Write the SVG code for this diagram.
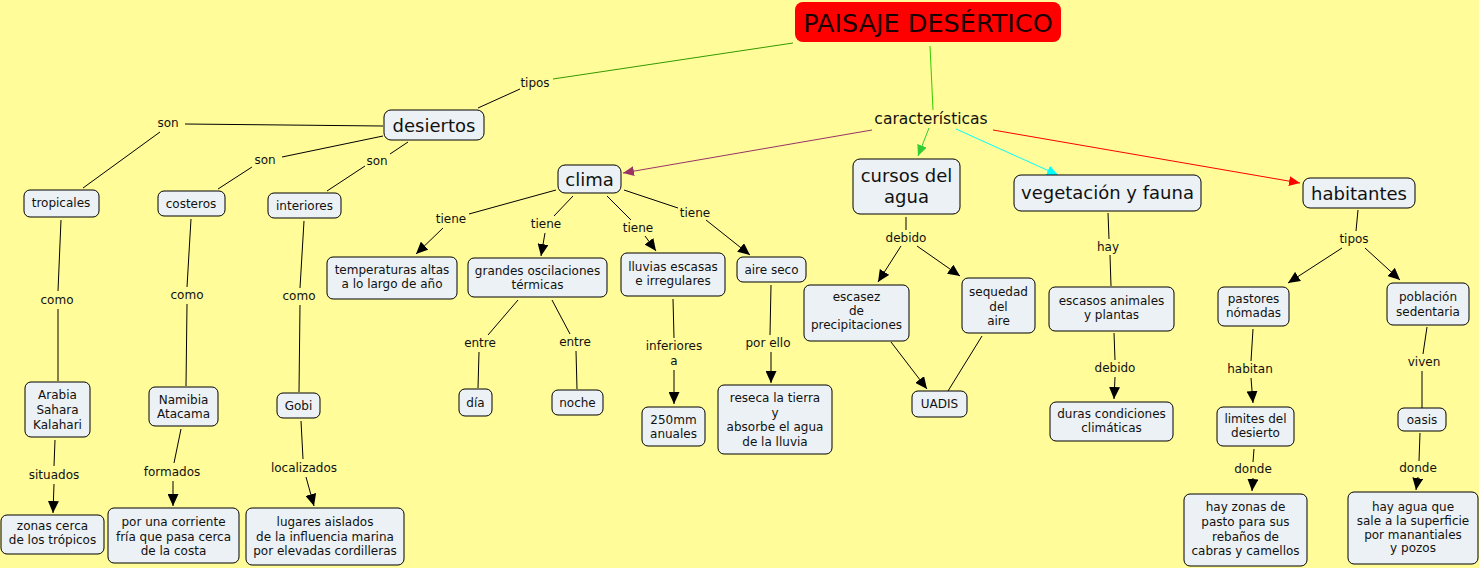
<svg xmlns="http://www.w3.org/2000/svg" width="1479" height="568" viewBox="0 0 1479 568">
<style>
text{font-family:"DejaVu Sans","Verdana",sans-serif;fill:#111;text-anchor:middle;dominant-baseline:central}
.n rect{fill:#ECF1F5;stroke:#000;stroke-width:1}
.s{font-size:12px}
.b{font-size:18px}
.lbl{font-size:12px}
.c line,.c path{stroke:#000;stroke-width:1;fill:none}
</style>
<defs>
<marker id="ab" markerUnits="userSpaceOnUse" markerWidth="12" markerHeight="11" refX="12" refY="5.5" orient="auto"><path d="M0,0 L12,5.5 L0,11 z" fill="#000"/></marker>
<marker id="ap" markerUnits="userSpaceOnUse" markerWidth="11" markerHeight="10" refX="11" refY="5" orient="auto"><path d="M0,0 L11,5 L0,10 z" fill="#993366"/></marker>
<marker id="ag" markerUnits="userSpaceOnUse" markerWidth="11" markerHeight="10" refX="11" refY="5" orient="auto"><path d="M0,0 L11,5 L0,10 z" fill="#33CC33"/></marker>
<marker id="ac" markerUnits="userSpaceOnUse" markerWidth="11" markerHeight="10" refX="11" refY="5" orient="auto"><path d="M0,0 L11,5 L0,10 z" fill="#00FFFF"/></marker>
<marker id="ar" markerUnits="userSpaceOnUse" markerWidth="11" markerHeight="10" refX="11" refY="5" orient="auto"><path d="M0,0 L11,5 L0,10 z" fill="#FF0000"/></marker>
</defs>
<rect x="0" y="0" width="1479" height="568" fill="#FFFC99"/>

<g id="connectors" class="c">
<line x1="793" y1="43" x2="553" y2="79" style="stroke:#339900"/>
<line x1="520" y1="89" x2="478" y2="108"/>
<line x1="930" y1="46" x2="933" y2="110" style="stroke:#33CC00"/>
<line x1="872" y1="130" x2="623" y2="173" style="stroke:#993366" marker-end="url(#ap)"/>
<line x1="929" y1="128" x2="918" y2="156" style="stroke:#33CC33" marker-end="url(#ag)"/>
<line x1="956" y1="129" x2="1058" y2="175" style="stroke:#00FFFF" marker-end="url(#ac)"/>
<line x1="993" y1="130" x2="1300" y2="183" style="stroke:#FF0000" marker-end="url(#ar)"/>

<line x1="383" y1="126" x2="185" y2="124"/>
<line x1="160" y1="132" x2="83" y2="188"/>
<line x1="383" y1="136" x2="282" y2="157"/>
<line x1="252" y1="167" x2="218" y2="189"/>
<line x1="408" y1="142" x2="390" y2="154"/>
<line x1="365" y1="166" x2="327" y2="191"/>
<line x1="61" y1="220" x2="58" y2="291"/>
<line x1="58" y1="309" x2="58" y2="381"/>
<line x1="191" y1="219" x2="187" y2="287"/>
<line x1="187" y1="304" x2="186" y2="386"/>
<line x1="304" y1="221" x2="300" y2="288"/>
<line x1="300" y1="305" x2="299" y2="392"/>
<line x1="55" y1="440" x2="54" y2="466"/>
<line x1="54" y1="484" x2="53" y2="513" marker-end="url(#ab)"/>
<line x1="181" y1="429" x2="174" y2="463"/>
<line x1="173" y1="481" x2="173" y2="506" marker-end="url(#ab)"/>
<line x1="301" y1="421" x2="303" y2="459"/>
<line x1="306" y1="477" x2="314" y2="506" marker-end="url(#ab)"/>

<line x1="556" y1="190" x2="469" y2="214"/>
<line x1="443" y1="228" x2="416" y2="254" marker-end="url(#ab)"/>
<line x1="573" y1="196" x2="554" y2="216"/>
<line x1="545" y1="233" x2="541" y2="256" marker-end="url(#ab)"/>
<line x1="607" y1="196" x2="631" y2="220"/>
<line x1="645" y1="236" x2="656" y2="251" marker-end="url(#ab)"/>
<line x1="624" y1="190" x2="678" y2="208"/>
<line x1="706" y1="220" x2="750" y2="255" marker-end="url(#ab)"/>
<line x1="518" y1="300" x2="488" y2="335"/>
<line x1="479" y1="352" x2="478" y2="388"/>
<line x1="552" y1="300" x2="570" y2="334"/>
<line x1="576" y1="351" x2="577" y2="389"/>
<line x1="673" y1="299" x2="674" y2="338"/>
<line x1="674" y1="370" x2="674" y2="404" marker-end="url(#ab)"/>
<line x1="771" y1="285" x2="770" y2="335"/>
<line x1="771" y1="352" x2="771" y2="383" marker-end="url(#ab)"/>

<line x1="906" y1="217" x2="906" y2="230"/>
<line x1="901" y1="246" x2="878" y2="282" marker-end="url(#ab)"/>
<line x1="917" y1="246" x2="960" y2="276" marker-end="url(#ab)"/>
<line x1="891" y1="342" x2="927" y2="389" marker-end="url(#ab)"/>
<line x1="982" y1="336" x2="948" y2="391"/>
<line x1="1108" y1="213" x2="1109" y2="239"/>
<line x1="1110" y1="255" x2="1111" y2="286"/>
<line x1="1114" y1="333" x2="1115" y2="360"/>
<line x1="1115" y1="377" x2="1114" y2="399" marker-end="url(#ab)"/>

<line x1="1358" y1="210" x2="1356" y2="231"/>
<line x1="1342" y1="248" x2="1288" y2="283" marker-end="url(#ab)"/>
<line x1="1365" y1="248" x2="1400" y2="280" marker-end="url(#ab)"/>
<line x1="1253" y1="329" x2="1251" y2="361"/>
<line x1="1251" y1="378" x2="1253" y2="403" marker-end="url(#ab)"/>
<line x1="1427" y1="327" x2="1423" y2="354"/>
<line x1="1422" y1="371" x2="1422" y2="409"/>
<line x1="1254" y1="449" x2="1253" y2="462"/>
<line x1="1253" y1="478" x2="1252" y2="491" marker-end="url(#ab)"/>
<line x1="1420" y1="433" x2="1419" y2="461"/>
<line x1="1418" y1="477" x2="1416" y2="490" marker-end="url(#ab)"/>
</g>

<g id="labels" class="lbl">
<text x="535" y="83" class="lbl">tipos</text>
<text x="931" y="119" style="font-size:15.5px">características</text>
<text x="168" y="123" class="lbl">son</text>
<text x="265" y="160" class="lbl">son</text>
<text x="377" y="161" class="lbl">son</text>
<text x="57" y="300" class="lbl">como</text>
<text x="187" y="295" class="lbl">como</text>
<text x="299" y="296" class="lbl">como</text>
<text x="54" y="475" class="lbl">situados</text>
<text x="172" y="472" class="lbl">formados</text>
<text x="304" y="468" class="lbl">localizados</text>
<text x="451" y="219" class="lbl">tiene</text>
<text x="546" y="224" class="lbl">tiene</text>
<text x="638" y="228" class="lbl">tiene</text>
<text x="695" y="213" class="lbl">tiene</text>
<text x="480" y="343" class="lbl">entre</text>
<text x="575" y="342" class="lbl">entre</text>
<text x="674" y="346" class="lbl">inferiores</text>
<text x="674" y="361" class="lbl">a</text>
<text x="768" y="343" class="lbl">por ello</text>
<text x="906" y="238" class="lbl">debido</text>
<text x="1108" y="247" class="lbl">hay</text>
<text x="1115" y="368" class="lbl">debido</text>
<text x="1354" y="239" class="lbl">tipos</text>
<text x="1250" y="369" class="lbl">habitan</text>
<text x="1424" y="362" class="lbl">viven</text>
<text x="1253" y="469" class="lbl">donde</text>
<text x="1418" y="468" class="lbl">donde</text>
</g>

<g id="title"><rect x="795" y="2" width="266" height="40" rx="8" fill="#FF0000"/><text x="928" y="23" style="font-size:25.5px;fill:#1a0000">PAISAJE DESÉRTICO</text></g>

<g id="desiertos" class="n"><rect x="384" y="110" width="100" height="30" rx="7"/><text x="434" y="125" class="b">desiertos</text></g>
<g id="tropicales" class="n"><rect x="24" y="190" width="75" height="27" rx="6"/><text x="61" y="203" class="s">tropicales</text></g>
<g id="costeros" class="n"><rect x="158" y="191" width="67" height="25" rx="6"/><text x="191" y="203.5" class="s">costeros</text></g>
<g id="interiores" class="n"><rect x="268" y="193" width="73" height="25" rx="6"/><text x="304.5" y="205.5" class="s">interiores</text></g>
<g id="arabia" class="n"><rect x="25" y="382" width="65" height="55" rx="6"/><text class="s"><tspan x="57.5" y="395">Arabia</tspan><tspan x="57.5" y="410">Sahara</tspan><tspan x="57.5" y="425">Kalahari</tspan></text></g>
<g id="namibia" class="n"><rect x="149" y="387" width="69" height="39" rx="6"/><text class="s"><tspan x="183.5" y="400">Namibia</tspan><tspan x="183.5" y="414">Atacama</tspan></text></g>
<g id="gobi" class="n"><rect x="277" y="393" width="43" height="25" rx="6"/><text x="298.5" y="405.5" class="s">Gobi</text></g>
<g id="zonas" class="n"><rect x="1" y="515" width="103" height="39" rx="6"/><text class="s"><tspan x="52.5" y="526">zonas cerca</tspan><tspan x="52.5" y="540">de los trópicos</tspan></text></g>
<g id="corriente" class="n"><rect x="108" y="508" width="131" height="55" rx="6"/><text class="s"><tspan x="173.5" y="522">por una corriente</tspan><tspan x="173.5" y="537">fría que pasa cerca</tspan><tspan x="173.5" y="551">de la costa</tspan></text></g>
<g id="lugares" class="n"><rect x="246" y="508" width="158" height="57" rx="6"/><text class="s"><tspan x="325" y="522">lugares aislados</tspan><tspan x="325" y="537">de la influencia marina</tspan><tspan x="325" y="551">por elevadas cordilleras</tspan></text></g>

<g id="clima" class="n"><rect x="558" y="165" width="63" height="28" rx="7"/><text x="589.5" y="179" class="b">clima</text></g>
<g id="temperaturas" class="n"><rect x="327" y="257" width="130" height="42" rx="6"/><text class="s"><tspan x="392" y="270">temperaturas altas</tspan><tspan x="392" y="284">a lo largo de año</tspan></text></g>
<g id="oscilaciones" class="n"><rect x="468" y="258" width="139" height="39" rx="6"/><text class="s"><tspan x="537.5" y="271">grandes oscilaciones</tspan><tspan x="537.5" y="285">térmicas</tspan></text></g>
<g id="lluvias" class="n"><rect x="621" y="253" width="104" height="43" rx="6"/><text class="s"><tspan x="673" y="267">lluvias escasas</tspan><tspan x="673" y="281">e irregulares</tspan></text></g>
<g id="aireseco" class="n"><rect x="737" y="257" width="69" height="25" rx="6"/><text x="771.5" y="270" class="s">aire seco</text></g>
<g id="dia" class="n"><rect x="459" y="389" width="33" height="27" rx="6"/><text x="475.5" y="403" class="s">día</text></g>
<g id="noche" class="n"><rect x="552" y="390" width="51" height="25" rx="6"/><text x="577.5" y="403" class="s">noche</text></g>
<g id="mm250" class="n"><rect x="642" y="407" width="63" height="39" rx="6"/><text class="s"><tspan x="673.5" y="420">250mm</tspan><tspan x="673.5" y="434">anuales</tspan></text></g>
<g id="reseca" class="n"><rect x="718" y="385" width="114" height="69" rx="6"/><text class="s"><tspan x="775" y="398">reseca la tierra</tspan><tspan x="775" y="413">y</tspan><tspan x="775" y="427">absorbe el agua</tspan><tspan x="775" y="442">de la lluvia</tspan></text></g>

<g id="cursos" class="n"><rect x="853" y="159" width="107" height="55" rx="7"/><text class="b"><tspan x="906.5" y="175">cursos del</tspan><tspan x="906.5" y="196">agua</tspan></text></g>
<g id="escasez" class="n"><rect x="804" y="285" width="105" height="56" rx="6"/><text class="s"><tspan x="856.5" y="297">escasez</tspan><tspan x="856.5" y="311">de</tspan><tspan x="856.5" y="325">precipitaciones</tspan></text></g>
<g id="sequedad" class="n"><rect x="962" y="278" width="73" height="55" rx="6"/><text class="s"><tspan x="998.5" y="292">sequedad</tspan><tspan x="998.5" y="307">del</tspan><tspan x="998.5" y="321">aire</tspan></text></g>
<g id="uadis" class="n"><rect x="912" y="391" width="55" height="26" rx="6"/><text x="939.5" y="404" class="s">UADIS</text></g>

<g id="vegetacion" class="n"><rect x="1014" y="175" width="187" height="36" rx="7"/><text x="1107.5" y="192.5" class="b">vegetación y fauna</text></g>
<g id="escasos" class="n"><rect x="1049" y="287" width="125" height="44" rx="6"/><text class="s"><tspan x="1111.5" y="301">escasos animales</tspan><tspan x="1111.5" y="315">y plantas</tspan></text></g>
<g id="duras" class="n"><rect x="1050" y="402" width="123" height="39" rx="6"/><text class="s"><tspan x="1111.5" y="414">duras condiciones</tspan><tspan x="1111.5" y="428">climáticas</tspan></text></g>

<g id="habitantes" class="n"><rect x="1303" y="178" width="112" height="30" rx="7"/><text x="1359" y="193" class="b">habitantes</text></g>
<g id="pastores" class="n"><rect x="1218" y="287" width="71" height="39" rx="6"/><text class="s"><tspan x="1253.5" y="299">pastores</tspan><tspan x="1253.5" y="313">nómadas</tspan></text></g>
<g id="poblacion" class="n"><rect x="1387" y="283" width="82" height="42" rx="6"/><text class="s"><tspan x="1428" y="297">población</tspan><tspan x="1428" y="312">sedentaria</tspan></text></g>
<g id="limites" class="n"><rect x="1217" y="407" width="77" height="39" rx="6"/><text class="s"><tspan x="1255.5" y="419">limites del</tspan><tspan x="1255.5" y="433">desierto</tspan></text></g>
<g id="oasis" class="n"><rect x="1398" y="408" width="48" height="23" rx="6"/><text x="1422" y="419.5" class="s">oasis</text></g>
<g id="pasto" class="n"><rect x="1184" y="494" width="123" height="72" rx="6"/><text class="s"><tspan x="1245.5" y="507">hay zonas de</tspan><tspan x="1245.5" y="522">pasto para sus</tspan><tspan x="1245.5" y="537">rebaños de</tspan><tspan x="1245.5" y="551">cabras y camellos</tspan></text></g>
<g id="agua" class="n"><rect x="1348" y="492" width="130" height="72" rx="6"/><text class="s"><tspan x="1413" y="507">hay agua que</tspan><tspan x="1413" y="521">sale a la superficie</tspan><tspan x="1413" y="535">por manantiales</tspan><tspan x="1413" y="548">y pozos</tspan></text></g>
</svg>
